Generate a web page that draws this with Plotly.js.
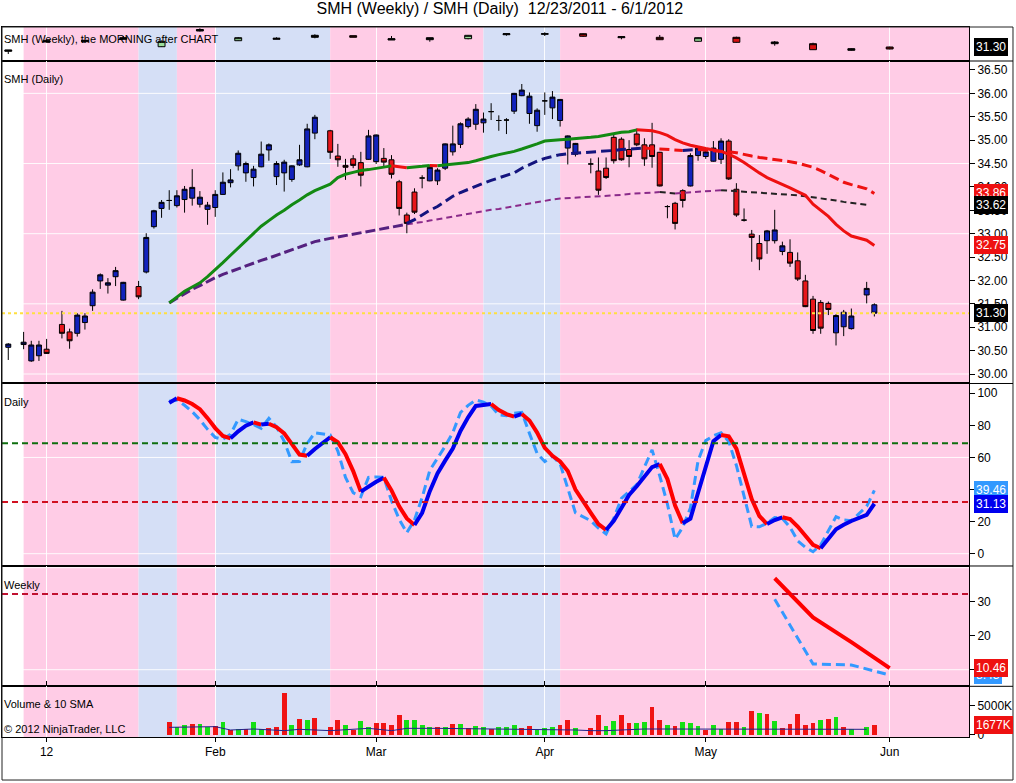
<!DOCTYPE html>
<html><head><meta charset="utf-8">
<script src="https://cdn.plot.ly/plotly-3.0.1.min.js"></script>
<style>html,body{margin:0;padding:0;background:#fff}#chart{width:1016px;height:783px}</style>
</head><body><div id="chart"></div>
<script>
// ---------------- DATA ----------------
const days = ['2011-12-23','2011-12-27','2011-12-28','2011-12-29','2011-12-30',
'2012-01-03','2012-01-04','2012-01-05','2012-01-06','2012-01-09','2012-01-10','2012-01-11','2012-01-12','2012-01-13','2012-01-17','2012-01-18','2012-01-19','2012-01-20','2012-01-23','2012-01-24','2012-01-25','2012-01-26','2012-01-27','2012-01-30','2012-01-31',
'2012-02-01','2012-02-02','2012-02-03','2012-02-06','2012-02-07','2012-02-08','2012-02-09','2012-02-10','2012-02-13','2012-02-14','2012-02-15','2012-02-16','2012-02-17','2012-02-21','2012-02-22','2012-02-23','2012-02-24','2012-02-27','2012-02-28','2012-02-29',
'2012-03-01','2012-03-02','2012-03-05','2012-03-06','2012-03-07','2012-03-08','2012-03-09','2012-03-12','2012-03-13','2012-03-14','2012-03-15','2012-03-16','2012-03-19','2012-03-20','2012-03-21','2012-03-22','2012-03-23','2012-03-26','2012-03-27','2012-03-28','2012-03-29','2012-03-30',
'2012-04-02','2012-04-03','2012-04-04','2012-04-05','2012-04-09','2012-04-10','2012-04-11','2012-04-12','2012-04-13','2012-04-16','2012-04-17','2012-04-18','2012-04-19','2012-04-20','2012-04-23','2012-04-24','2012-04-25','2012-04-26','2012-04-27','2012-04-30',
'2012-05-01','2012-05-02','2012-05-03','2012-05-04','2012-05-07','2012-05-08','2012-05-09','2012-05-10','2012-05-11','2012-05-14','2012-05-15','2012-05-16','2012-05-17','2012-05-18','2012-05-21','2012-05-22','2012-05-23','2012-05-24','2012-05-25','2012-05-29','2012-05-30'];

const dOpen = [30.57,30.63,30.28,30.39,30.53,
31.06,30.90,30.87,31.10,31.46,31.99,31.90,32.08,31.58,31.87,32.18,33.15,33.54,33.71,33.60,33.73,33.76,33.63,33.52,33.56,
33.84,34.09,34.45,34.30,34.20,34.43,34.79,34.22,34.30,34.16,34.47,34.43,35.15,35.20,34.66,34.46,34.60,34.52,34.59,34.54,
34.61,34.58,34.11,33.40,33.89,34.19,34.13,34.13,34.40,34.75,34.91,35.29,35.34,35.37,35.61,35.42,35.43,35.62,35.95,35.57,35.31,35.84,
35.69,35.42,34.83,34.70,34.49,34.34,34.40,35.06,35.02,34.80,35.13,34.90,34.90,34.74,33.58,33.65,33.92,34.02,34.67,34.65,
34.55,34.59,34.98,33.95,33.29,32.99,32.79,32.85,32.85,32.62,32.60,32.42,31.99,31.60,31.53,31.51,30.88,31.01,30.97,31.69,31.48];
const dHigh = [30.66,30.90,30.71,30.71,30.75,
31.35,30.97,31.30,31.30,31.81,32.15,32.05,32.29,31.97,31.99,33.01,33.51,33.72,33.93,33.93,34.02,34.38,33.91,33.68,33.93,
34.31,34.38,34.78,34.54,34.45,34.97,34.93,34.55,34.58,34.46,34.90,35.35,35.54,35.22,34.92,34.60,34.68,34.75,35.22,35.12,
34.83,34.68,34.15,33.45,33.97,34.25,34.47,34.40,34.93,35.31,35.38,35.49,35.77,35.59,35.79,35.53,35.47,36.01,36.20,36.02,35.68,36.02,
36.05,35.88,35.10,34.94,34.61,34.63,34.63,35.11,35.06,35.00,35.25,35.04,35.37,34.75,33.61,33.68,33.95,34.72,34.85,34.80,
34.98,35.04,35.02,34.08,33.54,33.08,32.97,33.08,33.51,32.83,32.88,32.60,32.12,31.67,31.58,31.55,31.28,31.37,31.40,31.97,31.51];
const dLow = [30.30,30.53,30.26,30.28,30.43,
30.76,30.54,30.80,30.95,31.35,31.82,31.72,31.88,31.57,31.60,32.15,33.11,33.34,33.51,33.56,33.45,33.60,33.56,33.19,33.36,
33.83,33.99,34.35,34.11,34.01,34.42,34.56,34.04,33.90,34.11,34.45,34.42,35.02,34.60,34.43,34.15,34.40,34.01,34.58,34.49,
34.43,34.18,33.39,33.01,33.42,33.97,34.12,34.04,34.36,34.67,34.83,35.25,35.22,35.16,35.43,35.20,35.13,35.56,35.94,35.35,35.18,35.54,
35.45,35.29,34.48,34.65,34.29,33.83,34.17,34.50,34.56,34.42,34.87,34.45,34.41,34.01,33.33,33.09,33.56,34.01,34.56,34.60,
34.54,34.49,34.15,33.36,33.26,32.40,32.22,32.57,32.79,32.54,32.29,31.99,31.43,30.86,30.86,31.26,30.61,30.81,30.95,31.51,31.23];
const dClose = [30.64,30.68,30.62,30.62,30.44,
30.87,30.71,31.26,31.24,31.75,32.12,31.95,32.21,31.96,31.65,32.92,33.49,33.67,33.71,33.81,33.95,33.99,33.78,33.61,33.84,
34.10,34.15,34.72,34.50,34.38,34.70,34.90,34.50,34.53,34.45,34.58,35.24,35.49,34.74,34.58,34.42,34.46,34.25,35.09,35.11,
34.53,34.27,33.54,33.22,33.46,34.19,34.42,34.36,34.92,34.92,35.35,35.45,35.66,35.45,35.61,35.42,35.43,36.00,36.07,35.94,35.64,35.84,
35.92,35.87,35.09,34.93,34.49,33.93,34.20,34.56,34.58,34.65,34.90,34.60,34.65,34.02,33.58,33.22,33.71,34.67,34.83,34.75,
34.83,34.98,34.17,33.40,33.29,32.92,32.46,33.06,33.08,32.74,32.37,32.03,31.44,30.93,30.98,31.38,31.25,31.32,31.24,31.83,31.30];
// candle paint colour: b = blue, r = red, k = black (doji)
const dColor = ('bbbbrrrbbb'+'bbbbrbbbkb'+'bbbbbbbbbb'+'bbbbbbbbrr'+'rrrbbrrrrr'+'kbbbbbbbbk'+'kkbbbbkbbb'+'bkrrrrrrrr'+'rkrrbbbbbr'+'rkrrbbbrrr'+'rrrbbbbb').split('');

// moving averages (price panel)
const maFast = [31.52,31.65,31.77,31.86,31.95,32.08,32.22,
32.38,32.54,32.70,32.86,33.01,33.16,33.28,33.40,33.50,33.62,33.72,33.83,33.92,34.06,34.20,34.27,34.31,34.35,34.37,34.40,
34.42,34.45,34.43,34.41,34.42,34.44,34.46,34.45,34.47,34.48,34.50,34.52,34.56,34.61,34.65,34.69,34.72,34.76,34.81,34.86,34.92,34.98,
35.00,35.01,35.02,35.03,35.06,35.08,35.11,35.15,35.17,35.18,35.22,35.21,35.20,35.16,35.10,35.01,34.94,34.89,34.85,34.82,
34.79,34.76,34.70,34.62,34.52,34.40,34.30,34.20,34.13,34.05,33.98,33.90,33.82,33.63,33.50,33.37,33.20,33.06,32.95,32.86,32.75];
const maMid = [33.22,33.30,33.40,33.50,33.58,33.69,33.80,33.88,33.95,34.02,34.08,34.14,34.19,34.24,34.30,34.40,34.48,34.55,34.61,
34.65,34.69,34.71,34.72,34.74,34.75,34.76,34.78,34.80,34.81,34.82,34.83,34.82,34.81,34.80,34.79,34.78,34.79,34.80,34.79,
34.78,34.77,34.75,34.73,34.69,34.66,34.63,34.61,34.59,34.57,34.54,34.51,34.47,34.42,34.35,34.27,34.18,34.10,34.05,33.96,33.86];
const maSlow = [31.52,31.62,31.72,31.81,31.89,31.98,32.06,
32.13,32.19,32.26,32.32,32.37,32.43,32.48,32.54,32.59,32.65,32.71,32.77,32.83,32.90,32.93,32.96,32.99,33.03,33.06,33.09,
33.12,33.14,33.17,33.20,33.22,33.25,33.28,33.31,33.34,33.36,33.39,33.42,33.45,33.48,33.51,33.53,33.56,33.59,33.61,33.64,33.67,33.70,
33.73,33.75,33.76,33.77,33.78,33.79,33.81,33.82,33.83,33.85,33.86,33.87,33.88,33.89,33.88,33.86,33.87,33.89,33.90,33.91,
33.92,33.93,33.92,33.91,33.90,33.89,33.88,33.87,33.86,33.85,33.83,33.82,33.80,33.78,33.76,33.74,33.71,33.68,33.66,33.62];

// daily oscillator (from 1/23)
const oscD = [94.0,96.9,95.5,93.3,90.1,84.5,78.3,
73.4,71.9,76.3,79.8,81.9,80.5,81.0,78.9,75.0,68.5,61.8,61.0,65.3,72.6,69.5,62.0,51.5,38.7,42.0,44.8,
47.4,39.5,29.5,22.0,17.9,25.5,39.0,50.0,58.0,65.5,76.5,85.0,92.1,93.0,93.3,89.5,87.0,85.4,87.1,83.0,75.5,66.0,
61.0,57.5,51.5,40.0,25.5,18.5,14.8,20.5,28.5,36.6,42.0,48.0,54.0,55.9,46.5,30.0,19.0,21.9,38.0,55.0,
70.2,74.0,73.2,65.5,50.5,34.0,23.5,18.5,21.0,22.7,21.6,16.9,11.0,5.5,3.4,9.0,15.2,18.0,20.4,24.2,31.13];
const oscK = [95.0,95.8,92.5,88.5,83.5,77.5,72.5,
71.3,74.5,83.8,82.3,80.5,78.2,84.4,79.0,70.0,57.4,57.5,68.8,75.4,74.0,64.0,47.5,38.0,35.5,47.6,47.8,
47.6,33.0,21.5,13.1,21.0,35.0,52.0,59.5,67.0,75.5,88.0,92.5,95.8,94.5,92.0,86.5,86.0,87.5,88.1,75.0,62.5,57.4,
60.9,56.0,40.0,25.5,20.5,16.0,12.3,22.0,34.5,38.5,43.0,54.0,64.7,48.5,31.0,9.0,16.5,28.5,58.0,70.5,
73.5,75.4,70.0,55.0,36.0,17.0,16.8,19.0,22.5,22.0,16.5,8.0,4.0,1.2,5.5,14.5,23.1,21.0,20.5,29.5,39.46];
const oscLevels = [68.8, 32.2];

// volume (thousands, from 1/23)
const volume = [2300,1320,1725,1900,1900,1440,1550,
2300,860,1035,980,2300,980,1150,1440,7300,1725,2760,2590,2990,1440,2590,1725,860,2470,1440,2130,
2130,1725,3450,2590,2590,1725,1440,1440,1440,1900,1900,1150,1550,1440,980,1440,1440,1725,1150,1550,860,1150,
1440,1725,2590,1265,1265,3450,1550,2470,3450,2130,2130,2300,4890,2590,1725,1550,2300,2130,1550,860,
1725,1035,2300,2300,1440,4200,3850,3620,2470,1150,1900,3620,1725,2130,2590,2760,3160,1320,1035,1320,1677];
const volColor = ('rggrggr'+'grgrggrrrgrgrrrgrggr'+'rrrggggrgrgrggrgggrrgg'+'grrgrrggrrggrrgrgggr'+'ggrrgrgrgrrrrrgrgrggr').split('');
const volSmaDays = ['2012-01-23','2012-01-31','2012-02-02','2012-02-07','2012-02-13','2012-02-15','2012-02-21','2012-02-28','2012-03-02','2012-03-06','2012-03-12','2012-03-23','2012-03-30','2012-04-05','2012-04-09','2012-04-11','2012-04-18','2012-04-27','2012-05-04','2012-05-15','2012-05-29'];
const volSma = [1320,1440,860,1035,750,980,750,1150,750,1150,1150,1035,860,860,750,750,1035,1035,980,980,980];

// weekly candles (top strip)
const weeks = ['2011-12-23','2011-12-30','2012-01-06','2012-01-13','2012-01-20','2012-01-27','2012-02-03','2012-02-10','2012-02-17','2012-02-24','2012-03-02','2012-03-09','2012-03-16','2012-03-23','2012-03-30','2012-04-06','2012-04-13','2012-04-20','2012-04-27','2012-05-04','2012-05-11','2012-05-18','2012-05-25','2012-06-01'];
const wOpen  = [30.37,33.26,33.39,33.70,31.39,36.28,33.26,33.70,34.32,34.82,33.48,33.57,33.89,35.13,35.26,35.44,34.20,34.32,33.08,34.32,32.33,32.33,30.27,31.30];
const wClose = [29.96,32.86,32.95,34.20,33.08,36.75,34.20,34.01,34.94,34.32,33.89,34.20,34.94,35.44,35.44,34.63,34.51,33.57,34.20,32.76,32.86,30.46,30.77,30.68];
const wHigh  = [30.37,33.48,33.48,34.73,33.32,37.13,34.42,34.32,35.26,34.82,34.73,34.20,35.04,35.57,35.88,35.57,34.73,35.04,34.32,34.51,33.17,32.64,30.90,31.39];
const wLow   = [29.12,32.70,32.64,33.70,31.30,36.13,33.17,33.70,34.01,34.32,33.48,32.95,33.70,34.82,34.73,34.42,33.70,33.48,32.95,32.64,31.70,30.37,30.15,30.58];
const wColor = ['k','k','k','k','g','k','g','k','k','r','k','k','g','k','k','r','k','r','g','r','k','r','k','r'];

// weekly oscillator panel
const wkDays = ['2012-05-11','2012-05-18','2012-05-25','2012-06-01'];
const wkD = [36.9,25.4,18.1,10.46];
const wkK = [30.7,11.7,11.4,8.43];
const wkLevel = 32.3;

// background regime bands
const bandStart = ['2011-12-27','2012-01-17','2012-01-24','2012-01-31','2012-02-21','2012-03-20','2012-04-03'];
const bandEnd   = ['2012-01-17','2012-01-24','2012-01-31','2012-02-21','2012-03-20','2012-04-03', null];
const bandKind  = ['pink','blue','pink','blue','pink','blue','pink'];

// axis ticks
const monthTickDays = ['2011-12-30','2012-01-31','2012-02-29','2012-03-30','2012-04-30','2012-06-01'];
const monthLabels = ['12','Feb','Mar','Apr','May','Jun'];
const priceTicks = [30,30.5,31,31.5,32,32.5,33,33.5,34,34.5,35,35.5,36,36.5];
const priceGrid = [30,31.5,33,34.5,36];
const oscTicks = [0,20,40,60,80,100];
const oscGrid = [0,60];
const wkTicks = [10,20,30];
const wkGrid = [10,40];

// ---------------- BUILD ----------------
const FONT = 'Liberation Sans, Arial, sans-serif';
const T0 = Date.UTC(2011, 11, 23);
const wdCache = {};
function wd(s) {
  if (wdCache[s] !== undefined) return wdCache[s];
  const p = s.split('-').map(Number);
  const t = Date.UTC(p[0], p[1]-1, p[2]);
  let n = 0;
  for (let u = T0; u < t; u += 86400000) { const g = new Date(u).getUTCDay(); if (g !== 0 && g !== 6) n++; }
  return (wdCache[s] = n);
}
const X = a => a.map(wd);
const xRange = [-0.82, 125.35];

const indDays = days.slice(days.indexOf('2012-01-23'));
const midDays = days.slice(days.indexOf('2012-03-06'));
const slowDays = days.slice(days.indexOf('2012-01-23'), days.length - 1);

function dirSegments(xs, ys, up, down, line, yaxis) {
  const dirs = [];
  for (let i = 1; i < ys.length; i++) {
    let d = ys[i] > ys[i-1] ? 1 : (ys[i] < ys[i-1] ? -1 : (dirs.length ? dirs[dirs.length-1] : 1));
    dirs.push(d);
  }
  const out = [];
  let s = 0;
  for (let k = 1; k <= dirs.length; k++) {
    if (k === dirs.length || dirs[k] !== dirs[s]) {
      out.push({type:'scatter', mode:'lines', x: xs.slice(s, k+1), y: ys.slice(s, k+1),
        line: Object.assign({}, line, {color: dirs[s] > 0 ? up : down}),
        xaxis:'x', yaxis, hoverinfo:'skip', showlegend:false});
      s = k;
    }
  }
  return out;
}
const idxOf = (codes, c) => codes.map((v,i)=>v===c?i:-1).filter(i=>i>=0);

const traces = [];
// volume
traces.push({type:'bar', x:X(indDays), y:volume, width:0.62,
  marker:{color: volColor.map(c => c==='g' ? '#14E014' : '#F01414'), line:{width:0}},
  xaxis:'x', yaxis:'y5', hoverinfo:'skip', showlegend:false});
traces.push({type:'scatter', mode:'lines', x:X(volSmaDays), y:volSma, line:{color:'#22228A', width:1},
  xaxis:'x', yaxis:'y5', hoverinfo:'skip', showlegend:false});

// weekly candles in the top strip
const wFill = {g:'#9ADE9A', r:'#D81010', k:'#111111'};
['g','r','k'].forEach(c => {
  const ix = idxOf(wColor, c);
  traces.push({type:'box', x: ix.map(i=>wd(weeks[i])),
    q1: ix.map(i=>Math.min(wOpen[i], wClose[i])),
    median: ix.map(i=>Math.max(wOpen[i], wClose[i])),
    q3: ix.map(i=>Math.max(wOpen[i], wClose[i])),
    lowerfence: ix.map(i=>wLow[i]), upperfence: ix.map(i=>wHigh[i]),
    width:0.9, whiskerwidth:0, boxpoints:false, fillcolor:wFill[c],
    line:{color:'#000', width:1}, xaxis:'x', yaxis:'y', hoverinfo:'skip', showlegend:false});
});

// daily candles
const dFill = {b:'#1222BC', r:'#E8161B', k:'#000000'};
['b','r','k'].forEach(c => {
  const ix = idxOf(dColor, c);
  const st = {fillcolor:dFill[c], line:{color:'#000', width:1}};
  traces.push({type:'candlestick', x: ix.map(i=>wd(days[i])),
    open: ix.map(i=>dOpen[i]), high: ix.map(i=>dHigh[i]), low: ix.map(i=>dLow[i]), close: ix.map(i=>dClose[i]),
    increasing: st, decreasing: st, whiskerwidth:0, xaxis:'x', yaxis:'y2', hoverinfo:'skip', showlegend:false});
});

// moving averages
const splitAt = slowDays.indexOf('2012-03-06');
traces.push(...dirSegments(X(slowDays.slice(0, splitAt+1)), maSlow.slice(0, splitAt+1), '#55217F', '#111111', {width:3, dash:'10px,4px'}, 'y2'));
traces.push(...dirSegments(X(slowDays.slice(splitAt)), maSlow.slice(splitAt), '#8A2A8A', '#222222', {width:2, dash:'6px,4px'}, 'y2'));
traces.push(...dirSegments(X(midDays), maMid, '#14147E', '#EE1111', {width:3, dash:'10px,5px'}, 'y2'));
traces.push(...dirSegments(X(indDays), maFast, '#138A13', '#EE1111', {width:3}, 'y2'));

// daily oscillator
traces.push({type:'scatter', mode:'lines', x:X(indDays), y:oscK, line:{color:'#3399FF', width:3, dash:'9px,5px'},
  xaxis:'x', yaxis:'y3', hoverinfo:'skip', showlegend:false});
traces.push(...dirSegments(X(indDays), oscD, '#0000EE', '#FF0000', {width:4}, 'y3'));

// weekly oscillator
traces.push({type:'scatter', mode:'lines', x:X(wkDays), y:wkK, line:{color:'#3399FF', width:3, dash:'9px,5px'},
  xaxis:'x', yaxis:'y4', hoverinfo:'skip', showlegend:false});
traces.push(...dirSegments(X(wkDays), wkD, '#0000EE', '#FF0000', {width:4}, 'y4'));

// ---------------- SHAPES ----------------
const bandFill = {pink:'#FFCCE6', blue:'#D5DFF6'};
const shapes = [];
bandStart.forEach((s,i) => shapes.push({type:'rect', layer:'below', xref:'x', yref:'paper',
  x0: wd(s), x1: bandEnd[i] ? wd(bandEnd[i]) : xRange[1], y0:0, y1:1, fillcolor: bandFill[bandKind[i]], line:{width:0}}));
const gridLine = (yref, v) => ({type:'line', layer:'below', xref:'paper', x0:0, x1:1, yref, y0:v, y1:v, line:{color:'rgba(255,255,255,0.9)', width:1}});
priceGrid.forEach(v => shapes.push(gridLine('y2', v)));
oscGrid.forEach(v => shapes.push(gridLine('y3', v)));
wkGrid.forEach(v => shapes.push(gridLine('y4', v)));
const hLine = (yref, v, color, width, dash) => ({type:'line', xref:'paper', x0:0, x1:1, yref, y0:v, y1:v, line:{color, width, dash}});
const lastClose = dClose[dClose.length-1];
shapes.push(hLine('y2', lastClose, '#FFE040', 2, 'dot'));
shapes.push(hLine('y3', oscLevels[0], '#0E6E0E', 2, '6px,4px'));
shapes.push(hLine('y3', oscLevels[1], '#D01020', 2, '6px,4px'));
shapes.push(hLine('y4', wkLevel, '#C01030', 2, '6px,4px'));

// outer frame and separators through the label column
const D = {strip:[0.95211,1], price:[0.49789,0.95211], osc:[0.24085,0.49789], wk:[0.07141,0.24085], vol:[0,0.07141]};
const RX = 1.0455;
shapes.push({type:'rect', xref:'paper', yref:'paper', x0:0, x1:RX, y0:-0.0606, y1:1, line:{color:'#222', width:1}});
[D.strip[0], D.price[0], D.osc[0], D.wk[0]].forEach(y => shapes.push({type:'line', xref:'paper', yref:'paper', x0:1, x1:RX, y0:y, y1:y, line:{color:'#000', width:1}}));

// ---------------- ANNOTATIONS ----------------
const ann = [];
const label = (y, text, shift) => ({xref:'paper', x:0, xanchor:'left', yref:'paper', y, yanchor:'top', yshift:shift,
  text, showarrow:false, font:{family:FONT, size:11, color:'#000'}});
ann.push(label(1, 'SMH (Weekly), the MORNING after CHART', -4));
ann.push(label(D.price[1], 'SMH (Daily)', -10));
ann.push(label(D.osc[1], 'Daily', -11));
ann.push(label(D.wk[1], 'Weekly', -11));
ann.push(label(D.vol[1], 'Volume &amp; 10 SMA', -10));
ann.push({xref:'paper', x:0, xanchor:'left', yref:'paper', y:0, yanchor:'bottom', yshift:0, text:'© 2012 NinjaTrader, LLC', showarrow:false, font:{family:FONT, size:11, color:'#000'}});

const last = a => a[a.length-1];
const dirCol = (a, up, down) => (a[a.length-1] >= a[a.length-2] ? up : down);
const tag = (yref, v, text, bg) => ({xref:'paper', x:1, xanchor:'left', xshift:5, yref, y:v, yanchor:'middle',
  text, showarrow:false, bgcolor:bg, bordercolor:bg, borderpad:1, font:{family:FONT, size:12, color:'#fff'}});
ann.push(tag('y', lastClose, lastClose.toFixed(2), '#000'));
ann.push(tag('y2', last(maMid), last(maMid).toFixed(2), dirCol(maMid, '#14147E', '#EE1111')));
ann.push(tag('y2', last(maSlow), last(maSlow).toFixed(2), dirCol(maSlow, '#8A2A8A', '#000')));
ann.push(tag('y2', last(maFast), last(maFast).toFixed(2), dirCol(maFast, '#138A13', '#EE1111')));
ann.push(tag('y2', lastClose, lastClose.toFixed(2), '#000'));
ann.push(tag('y3', last(oscK), last(oscK).toFixed(2), '#3399FF'));
ann.push(tag('y3', last(oscD), last(oscD).toFixed(2), dirCol(oscD, '#0000EE', '#FF0000')));
ann.push(tag('y4', last(wkK), last(wkK).toFixed(2), '#3399FF'));
ann.push(tag('y4', last(wkD), last(wkD).toFixed(2), dirCol(wkD, '#0000EE', '#EE1111')));
ann.push(tag('y5', last(volume), last(volume) + 'K', volColor[volColor.length-1]==='g' ? '#14C014' : '#EE1111'));

// ---------------- LAYOUT ----------------
const yBase = {side:'right', anchor:'x', showgrid:false, zeroline:false, showline:true, linecolor:'#000', linewidth:1, mirror:true,
  ticks:'outside', ticklen:5, tickcolor:'#000', tickfont:{family:FONT, size:12, color:'#000'}, fixedrange:true};
const layout = {
  width:1016, height:783, margin:{l:2, r:47, t:27, b:46},
  paper_bgcolor:'#fff', plot_bgcolor:'#fff', showlegend:false,
  boxgap:0.35, boxgroupgap:0, bargap:0,
  title:{text:'SMH (Weekly) / SMH (Daily)\u00a0 12/23/2011 - 6/1/2012', x:0.492, xanchor:'center', font:{family:FONT, size:16, color:'#000'}},
  xaxis:{type:'linear', range:xRange, tickvals:X(monthTickDays), ticktext:monthLabels, ticks:'outside', ticklen:4, tickcolor:'#000',
    showgrid:true, gridcolor:'rgba(255,255,255,0.9)', gridwidth:1, showline:true, linecolor:'#000', linewidth:1, mirror:'all',
    zeroline:false, anchor:'y5', tickfont:{family:FONT, size:12, color:'#000'}, rangeslider:{visible:false}, fixedrange:true},
  yaxis:Object.assign({}, yBase, {domain:D.strip, range:[26.94,37.53], showticklabels:false, ticks:''}),
  yaxis2:Object.assign({}, yBase, {domain:D.price, range:[29.797,36.692], tickvals:priceTicks, tickformat:'.2f'}),
  yaxis3:Object.assign({}, yBase, {domain:D.osc, range:[-7.67,106.1], tickvals:oscTicks}),
  yaxis4:Object.assign({}, yBase, {domain:D.wk, range:[5.12,40.5], tickvals:wkTicks}),
  yaxis5:Object.assign({}, yBase, {domain:D.vol, range:[-345,8396], tickvals:[0,5000], ticktext:['0','5000K']}),
  shapes, annotations: ann
};
Plotly.newPlot('chart', traces, layout, {staticPlot:true, displayModeBar:false});
</script></body></html>
